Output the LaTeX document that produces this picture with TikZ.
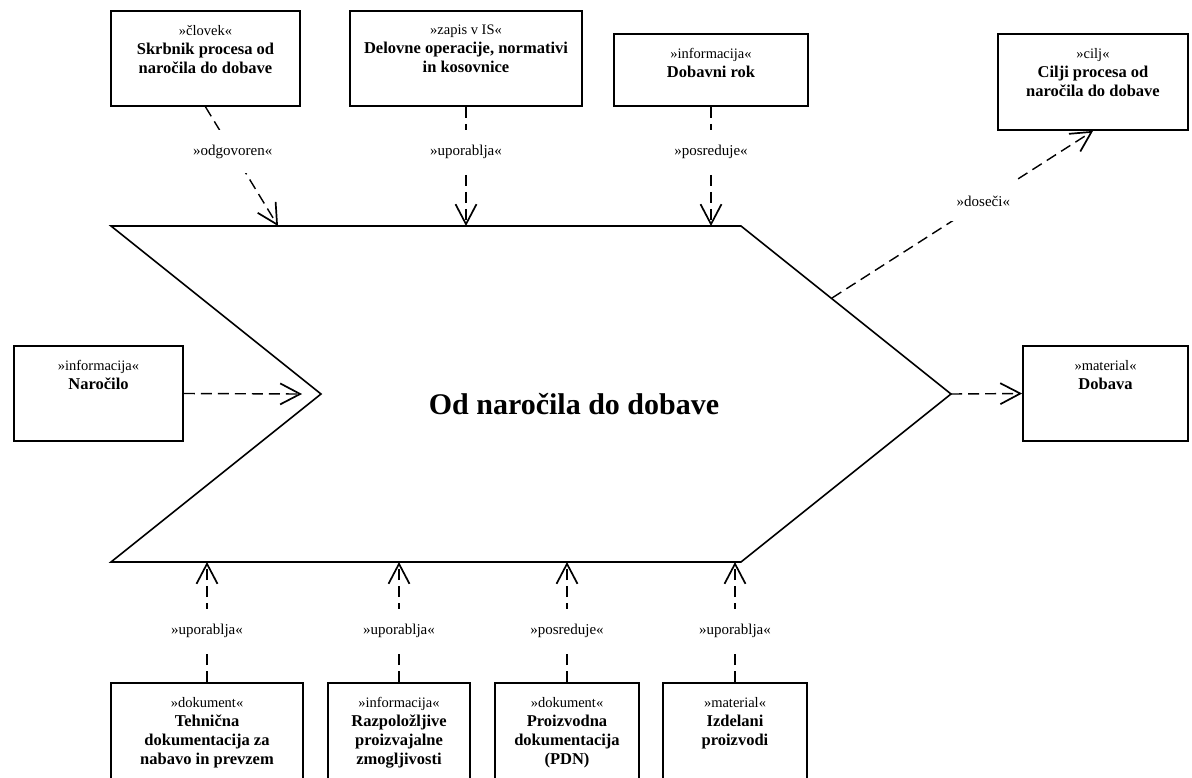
\documentclass[tikz,border=0pt]{standalone}
\usepackage{fontspec}
\setmainfont{Liberation Serif}
\usetikzlibrary{arrows.meta}
% bold name line inside an element box
\newcommand\bxname[1]{{\fontsize{16.5}{19}\selectfont\bfseries #1}}
\begin{document}
\begin{tikzpicture}[x=1pt,y=-1pt,
  box/.style={draw, line width=1.8pt, inner sep=0pt},
  boxtext/.style={anchor=north, align=center, inner sep=0pt, font=\fontsize{14.5}{19}\selectfont},
  dep/.style={line width=1.4pt, dash pattern=on 11pt off 6pt,
    -{Straight Barb[length=20pt,width=21pt,line width=1.7pt]}},
  lbl/.style={fill=white, inner xsep=6pt, inner ysep=15pt, font=\fontsize{15}{18}\selectfont},
  proc/.style={draw, line width=1.6pt, line join=miter}
]
\useasboundingbox (0,0) rectangle (1192,777);
\clip (0,0) rectangle (1192,777);

% process outline (arrow-shaped pentagon with notch)
\coordinate (pA) at (111,226);
\coordinate (pB) at (741,226);
\coordinate (pC) at (951,394);
\coordinate (pD) at (741,562);
\coordinate (pE) at (111,562);
\coordinate (pF) at (321,394);
\draw[proc] (pA) -- (pB) -- (pC) -- (pD) -- (pE) -- (pF) -- cycle;
\node[font=\fontsize{30}{36}\selectfont\bfseries] (title) at (574,404) {Od naročila do dobave};

% connector end points on the process outline
\coordinate (tOdg) at (278,226);
\coordinate (tUpo) at (466,226);
\coordinate (tPos) at (711,226);
\coordinate (tDos) at (832,298);
\coordinate (tNar) at (302,394);
\coordinate (bA) at (207,562);
\coordinate (bB) at (399,562);
\coordinate (bC) at (567,562);
\coordinate (bD) at (735,562);

% top boxes
\node[box, minimum width=189, minimum height=95] (skrbnik) at (205.5,58.5) {};
\node[boxtext] (skrbnikT) at ([yshift=-15pt]skrbnik.north) {»človek«\\\bxname{Skrbnik procesa od}\\\bxname{naročila do dobave}};
\node[box, minimum width=232, minimum height=95] (delovne) at (466,58.5) {};
\node[boxtext] (delovneT) at ([yshift=-15pt]delovne.north) {»zapis v IS«\\\bxname{Delovne operacije, normativi}\\\bxname{in kosovnice}};
\node[box, minimum width=194, minimum height=72] (rok) at (711,70) {};
\node[boxtext] (rokT) at ([yshift=-15pt]rok.north) {»informacija«\\\bxname{Dobavni rok}};
\node[box, minimum width=190, minimum height=96] (cilj) at (1093,82) {};
\node[boxtext] (ciljT) at ([yshift=-15pt]cilj.north) {»cilj«\\\bxname{Cilji procesa od}\\\bxname{naročila do dobave}};

% side boxes
\node[box, minimum width=169, minimum height=95] (narocilo) at (98.5,393.5) {};
\node[boxtext] (narociloT) at ([yshift=-15pt]narocilo.north) {»informacija«\\\bxname{Naročilo}};
\node[box, minimum width=165, minimum height=95] (dobava) at (1105.5,393.5) {};
\node[boxtext] (dobavaT) at ([yshift=-15pt]dobava.north) {»material«\\\bxname{Dobava}};

% bottom boxes (continue past the lower edge)
\node[box, minimum width=192, minimum height=100] (tehn) at (207,733) {};
\node[boxtext] (tehnT) at ([yshift=-15pt]tehn.north) {»dokument«\\\bxname{Tehnična}\\\bxname{dokumentacija za}\\\bxname{nabavo in prevzem}};
\node[box, minimum width=142, minimum height=100] (razp) at (399,733) {};
\node[boxtext] (razpT) at ([yshift=-15pt]razp.north) {»informacija«\\\bxname{Razpoložljive}\\\bxname{proizvajalne}\\\bxname{zmogljivosti}};
\node[box, minimum width=144, minimum height=100] (pdn) at (567,733) {};
\node[boxtext] (pdnT) at ([yshift=-15pt]pdn.north) {»dokument«\\\bxname{Proizvodna}\\\bxname{dokumentacija}\\\bxname{(PDN)}};
\node[box, minimum width=144, minimum height=100] (izd) at (735,733) {};
\node[boxtext] (izdT) at ([yshift=-15pt]izd.north) {»material«\\\bxname{Izdelani}\\\bxname{proizvodi}};

% dependencies
\draw[dep] (skrbnik.south) -- node[lbl, pos=0.375] (lOdg) {»odgovoren«} (tOdg);
\draw[dep] (delovne.south) -- node[lbl, pos=0.375] (lUpo) {»uporablja«} (tUpo);
\draw[dep] (rok.south) -- node[lbl, pos=0.375] (lPos) {»posreduje«} (tPos);
\draw[dep] (tDos) -- node[lbl, pos=0.58] (lDos) {»doseči«} (cilj.south);
\draw[dep] (narocilo.east) -- (tNar);
\draw[dep] (pC) -- (dobava.west);
\draw[dep] (tehn.north) -- node[lbl, pos=0.43] (lB1) {»uporablja«} (bA);
\draw[dep] (razp.north) -- node[lbl, pos=0.43] (lB2) {»uporablja«} (bB);
\draw[dep] (pdn.north) -- node[lbl, pos=0.43] (lB3) {»posreduje«} (bC);
\draw[dep] (izd.north) -- node[lbl, pos=0.43] (lB4) {»uporablja«} (bD);
\end{tikzpicture}
\end{document}
